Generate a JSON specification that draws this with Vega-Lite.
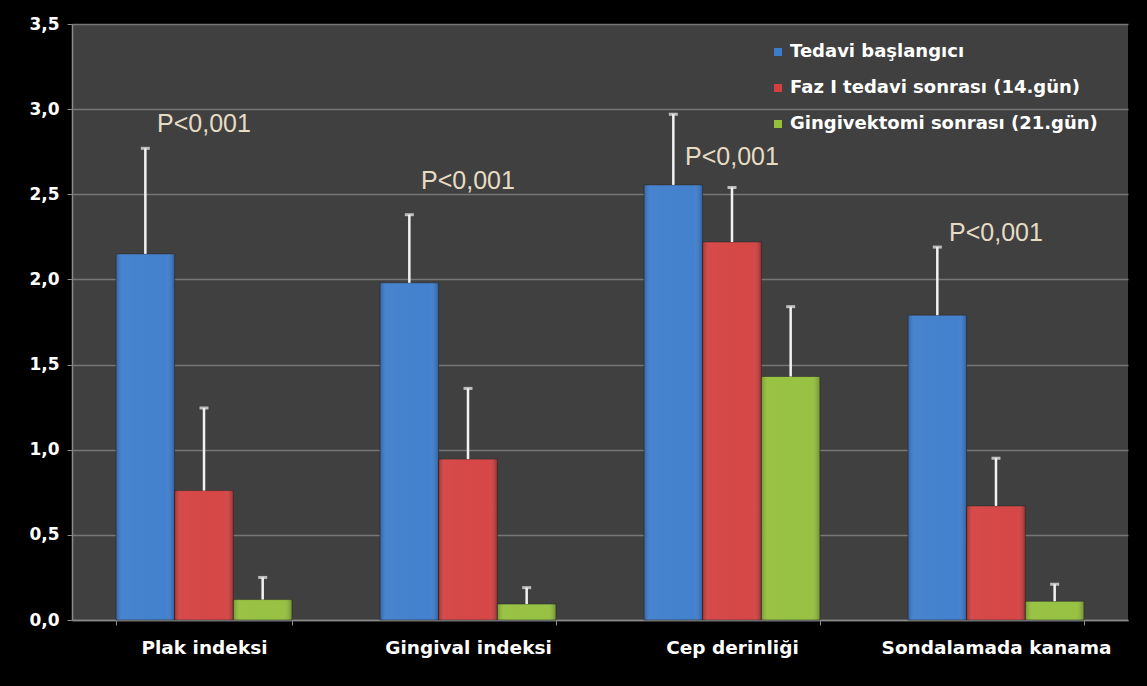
{
  "$schema": "https://vega.github.io/schema/vega-lite/v6.json",
  "width": 1056,
  "height": 596,
  "autosize": {"type": "none"},
  "padding": {"left": 72, "top": 24, "right": 19, "bottom": 66},
  "background": "#000000",
  "config": {
    "view": {"fill": "#404040", "stroke": null},
    "font": "DejaVu Sans"
  },
  "datasets": {
    "bars": [
      {"olcum": "Plak indeksi", "grup": "Tedavi başlangıcı", "ort": 2.15, "ust": 2.77},
      {"olcum": "Plak indeksi", "grup": "Faz I tedavi sonrası (14.gün)", "ort": 0.76, "ust": 1.245},
      {"olcum": "Plak indeksi", "grup": "Gingivektomi sonrası (21.gün)", "ort": 0.12, "ust": 0.25},
      {"olcum": "Gingival indeksi", "grup": "Tedavi başlangıcı", "ort": 1.98, "ust": 2.38},
      {"olcum": "Gingival indeksi", "grup": "Faz I tedavi sonrası (14.gün)", "ort": 0.945, "ust": 1.36},
      {"olcum": "Gingival indeksi", "grup": "Gingivektomi sonrası (21.gün)", "ort": 0.094, "ust": 0.19},
      {"olcum": "Cep derinliği", "grup": "Tedavi başlangıcı", "ort": 2.555, "ust": 2.97},
      {"olcum": "Cep derinliği", "grup": "Faz I tedavi sonrası (14.gün)", "ort": 2.22, "ust": 2.54},
      {"olcum": "Cep derinliği", "grup": "Gingivektomi sonrası (21.gün)", "ort": 1.43, "ust": 1.84},
      {"olcum": "Sondalamada kanama", "grup": "Tedavi başlangıcı", "ort": 1.79, "ust": 2.19},
      {"olcum": "Sondalamada kanama", "grup": "Faz I tedavi sonrası (14.gün)", "ort": 0.67, "ust": 0.95},
      {"olcum": "Sondalamada kanama", "grup": "Gingivektomi sonrası (21.gün)", "ort": 0.11, "ust": 0.21}
    ],
    "pvals": [
      {"olcum": "Plak indeksi", "grup": "Faz I tedavi sonrası (14.gün)", "y": 2.91, "etiket": "P<0,001"},
      {"olcum": "Gingival indeksi", "grup": "Faz I tedavi sonrası (14.gün)", "y": 2.58, "etiket": "P<0,001"},
      {"olcum": "Cep derinliği", "grup": "Faz I tedavi sonrası (14.gün)", "y": 2.72, "etiket": "P<0,001"},
      {"olcum": "Sondalamada kanama", "grup": "Faz I tedavi sonrası (14.gün)", "y": 2.27, "etiket": "P<0,001"}
    ]
  },
  "encoding": {
    "x": {
      "field": "olcum",
      "type": "nominal",
      "sort": ["Plak indeksi", "Gingival indeksi", "Cep derinliği", "Sondalamada kanama"],
      "scale": {"paddingInner": 0.3333, "paddingOuter": 0.1667},
      "axis": {
        "title": null,
        "labelAngle": 0,
        "labelColor": "#ffffff",
        "labelFont": "DejaVu Sans",
        "labelFontWeight": "bold",
        "labelFontSize": 18.5,
        "labelPadding": 13,
        "labelLimit": 0,
        "domainColor": "#8a8a8a",
        "domainWidth": 1.5,
        "tickColor": "#8a8a8a",
        "tickBand": "extent",
        "tickSize": 5,
        "grid": false
      }
    },
    "xOffset": {
      "field": "grup",
      "type": "nominal",
      "sort": ["Tedavi başlangıcı", "Faz I tedavi sonrası (14.gün)", "Gingivektomi sonrası (21.gün)"],
      "scale": {"paddingInner": 0, "paddingOuter": 0}
    }
  },
  "layer": [
    {
      "data": {"name": "bars"},
      "mark": {"type": "bar", "stroke": "#2a2a2a", "strokeWidth": 0.6},
      "encoding": {
        "y": {
          "field": "ort",
          "type": "quantitative",
          "scale": {"domain": [0, 3.5], "nice": false},
          "axis": {
            "title": null,
            "values": [0, 0.5, 1, 1.5, 2, 2.5, 3, 3.5],
            "labelExpr": "replace(format(datum.value, '.1f'), '.', ',')",
            "labelColor": "#ffffff",
            "labelFont": "DejaVu Sans",
            "labelFontWeight": "bold",
            "labelFontSize": 17,
            "labelPadding": 8,
            "domainColor": "#8a8a8a",
            "domainWidth": 1.5,
            "tickColor": "#8a8a8a",
            "tickSize": 5,
            "gridColor": "#767676",
            "gridWidth": 1.5
          }
        },
        "color": {
          "field": "grup",
          "type": "nominal",
          "sort": ["Tedavi başlangıcı", "Faz I tedavi sonrası (14.gün)", "Gingivektomi sonrası (21.gün)"],
          "scale": {
            "domain": ["Tedavi başlangıcı", "Faz I tedavi sonrası (14.gün)", "Gingivektomi sonrası (21.gün)"],
            "range": ["#3c7ccc", "#d43f3f", "#93bf3a"]
          },
          "legend": {
            "title": null,
            "orient": "none",
            "legendX": 697,
            "legendY": 19,
            "symbolType": "square",
            "symbolSize": 64,
            "symbolStrokeWidth": 0,
            "labelColor": "#ffffff",
            "labelFont": "DejaVu Sans",
            "labelFontWeight": "bold",
            "labelFontSize": 18,
            "labelLimit": 0,
            "labelOffset": 3,
            "rowPadding": 18
          }
        }
      }
    },
    {
      "data": {"name": "bars"},
      "mark": {
        "type": "bar",
        "fill": {
          "gradient": "linear",
          "x1": 0, "y1": 0, "x2": 1, "y2": 0,
          "stops": [
            {"offset": 0, "color": "rgba(0,0,0,0.22)"},
            {"offset": 0.12, "color": "rgba(255,255,255,0.06)"},
            {"offset": 0.85, "color": "rgba(255,255,255,0.04)"},
            {"offset": 1, "color": "rgba(0,0,0,0.25)"}
          ]
        }
      },
      "encoding": {
        "y": {"field": "ort", "type": "quantitative"}
      }
    },
    {
      "data": {"name": "bars"},
      "mark": {"type": "rule", "color": "#f2f2f2", "strokeWidth": 2.5},
      "encoding": {
        "y": {"field": "ort", "type": "quantitative"},
        "y2": {"field": "ust"}
      }
    },
    {
      "data": {"name": "bars"},
      "mark": {"type": "tick", "color": "#f2f2f2", "size": 9, "thickness": 3, "orient": "horizontal"},
      "encoding": {
        "y": {"field": "ust", "type": "quantitative"}
      }
    },
    {
      "data": {"name": "pvals"},
      "mark": {"type": "text", "color": "#e6dcc4", "font": "Liberation Sans", "fontSize": 25, "baseline": "middle", "align": "center"},
      "encoding": {
        "y": {"field": "y", "type": "quantitative"},
        "text": {"field": "etiket"}
      }
    }
  ]
}
